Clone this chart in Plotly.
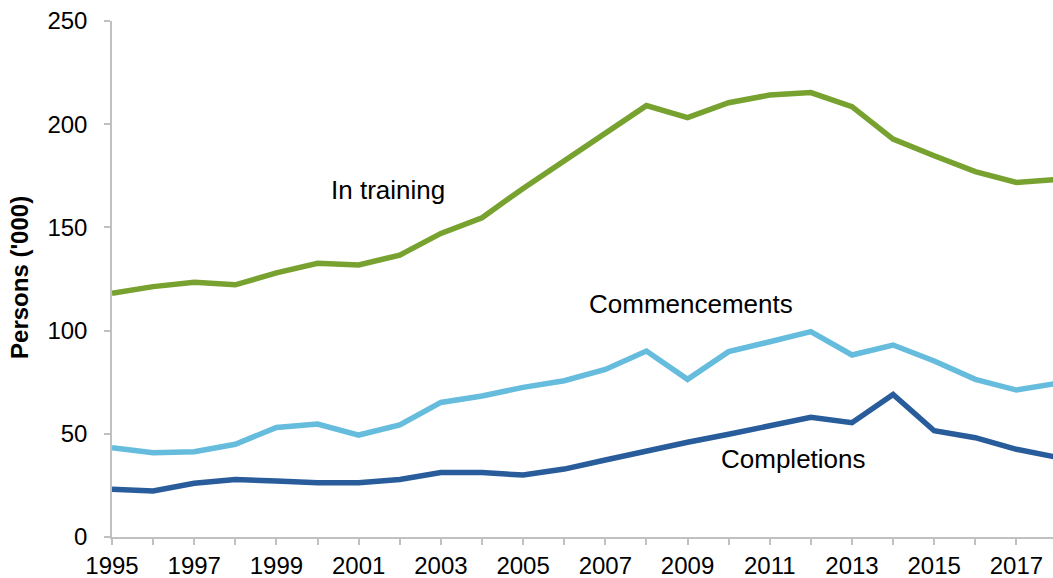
import plotly.graph_objects as go

years = list(range(1995, 2019))
in_training = [118.1, 121.3, 123.4, 122.2, 128.0, 132.6, 131.8, 136.6, 147.1, 154.7,
               168.9, 182.5, 195.6, 209.0, 203.2, 210.4, 214.1, 215.3, 208.5, 192.8,
               184.7, 177.0, 171.8, 173.2]
commencements = [43.3, 40.8, 41.3, 44.9, 53.1, 54.7, 49.4, 54.3, 65.2, 68.3,
                 72.5, 75.7, 81.2, 90.1, 76.4, 89.8, 94.6, 99.5, 88.2, 93.0,
                 85.3, 76.4, 71.2, 74.5]
completions = [23.1, 22.3, 26.0, 27.9, 27.1, 26.3, 26.3, 27.9, 31.2, 31.2,
               30.0, 32.9, 37.3, 41.8, 45.9, 49.8, 53.8, 58.0, 55.4, 69.1,
               51.5, 48.1, 42.5, 38.6]
y_ticks = [0, 50, 100, 150, 200, 250]
x_tick_labels = [str(y) if y % 2 == 1 else "" for y in years]

FONT = "Liberation Sans, Arial, sans-serif"
AXIS_GREY = "#c0c0c0"

fig = go.Figure()
series = [
    ("In training", in_training, "#78a22f"),
    ("Commencements", commencements, "#66bcdd"),
    ("Completions", completions, "#285c9b"),
]
for name, vals, col in series:
    fig.add_trace(go.Scatter(x=years, y=vals, mode="lines", name=name,
                             line=dict(color=col, width=5.5), showlegend=False))

labels = [("In training", 2001.71, 168.1),
          ("Commencements", 2009.09, 112.9),
          ("Completions", 2011.57, 37.8)]
for txt, lx, ly in labels:
    fig.add_annotation(x=lx, y=ly, text=txt, showarrow=False,
                       font=dict(family=FONT, size=26, color="#000000"),
                       xanchor="center", yanchor="middle")

fig.add_annotation(xref="paper", yref="paper", x=(20 - 112) / 941, y=0.502,
                   text="<b>Persons ('000)</b>", showarrow=False, textangle=-90,
                   font=dict(family=FONT, size=24, color="#000000"),
                   xanchor="center", yanchor="middle")

fig.update_xaxes(range=[1995, 2017.89], tickvals=years, ticktext=x_tick_labels,
                 ticks="outside", ticklen=6, tickcolor=AXIS_GREY, tickwidth=1.5,
                 showline=True, linecolor=AXIS_GREY, linewidth=1.5,
                 showgrid=False, zeroline=False,
                 tickfont=dict(family=FONT, size=24, color="#000000"))
fig.update_yaxes(range=[0, 250], tickvals=y_ticks,
                 ticks="outside", ticklen=6, tickcolor=AXIS_GREY, tickwidth=1.5,
                 showline=True, linecolor=AXIS_GREY, linewidth=1.5,
                 showgrid=False, zeroline=False, ticklabelstandoff=12,
                 tickfont=dict(family=FONT, size=24, color="#000000"))

fig.update_layout(width=1053, height=578,
                  margin=dict(l=112, r=0, t=21, b=41, autoexpand=False),
                  paper_bgcolor="white", plot_bgcolor="white",
                  font=dict(family=FONT))

fig.write_html("out.html", config={"displayModeBar": False},
               post_script="document.body.style.margin='0px';document.body.style.padding='0px';")
